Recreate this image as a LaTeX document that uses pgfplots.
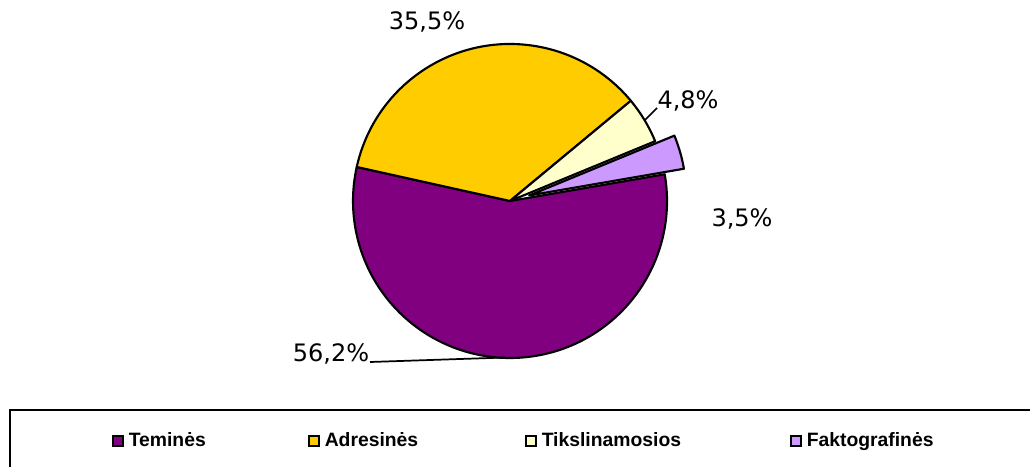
\documentclass[border=0pt]{standalone}
\usepackage{fontspec}
\setmainfont{Liberation Sans}
\newfontfamily\labfont{DejaVu Sans}
\usepackage{pgfplots}
\pgfplotsset{compat=1.18}
\usetikzlibrary{calc}
\definecolor{cA}{HTML}{800080}
\definecolor{cB}{HTML}{FFCC00}
\definecolor{cC}{HTML}{FFFFCC}
\definecolor{cD}{HTML}{CC99FF}
\newcommand\legitem[3]{%
  \draw[line width=1.5pt,fill=#2] (axis cs:#1+0.8,435.8) rectangle (axis cs:#1+11.2,446.2);
  \node[anchor=base west,inner sep=0pt,font=\bfseries\fontsize{14.5}{16}\selectfont] at (axis cs:#1+16.5,446.5) {#3};}
\begin{document}
\begin{tikzpicture}
% data (percent)
\def\vA{56.2}\def\vB{35.5}\def\vC{4.8}\def\vD{3.5}
\pgfmathsetmacro{\aS}{9.8}
\pgfmathsetmacro{\aA}{\aS-3.6*\vA}
\pgfmathsetmacro{\aB}{\aA-3.6*\vB}
\pgfmathsetmacro{\aC}{\aB-3.6*\vC}
\pgfmathsetmacro{\aD}{\aC-3.6*\vD}
\pgfmathsetmacro{\mD}{(\aC+\aD)/2}
\def\R{117.75pt}
\begin{axis}[width=773.25pt,height=349.5pt,scale only axis,
  xmin=0,xmax=1031,ymin=0,ymax=466,y dir=reverse,hide axis,clip=false]
\addplot[draw=none] coordinates {(0,0) (1031,466)};
\draw[line width=1.6pt,fill=cA,line join=round] (axis cs:510,201) -- ++(\aS:\R) arc[start angle=\aS,end angle=\aA,radius=\R] -- cycle;
\draw[line width=1.6pt,fill=cB,line join=round] (axis cs:510,201) -- ++(\aA:\R) arc[start angle=\aA,end angle=\aB,radius=\R] -- cycle;
\draw[line width=1.6pt,fill=cC,line join=round] (axis cs:510,201) -- ++(\aB:\R) arc[start angle=\aB,end angle=\aC,radius=\R] -- cycle;
\draw[line width=1.6pt,fill=cD,line join=round] ($(axis cs:510,201)+(\mD:15pt)$) -- ++(\aC:\R) arc[start angle=\aC,end angle=\aD,radius=\R] -- cycle;
% labels
\node[font=\labfont\fontsize{18}{20}\selectfont] at (axis cs:427,22) {35,5\%};
\node[font=\labfont\fontsize{18}{20}\selectfont] at (axis cs:688,101) {4,8\%};
\node[font=\labfont\fontsize{18}{20}\selectfont] at (axis cs:742,219) {3,5\%};
\node[font=\labfont\fontsize{18}{20}\selectfont] at (axis cs:331,354) {56,2\%};
\draw[line width=1.3pt] (axis cs:370,362) -- (axis cs:505,357.5);
\draw[line width=1.3pt] (axis cs:657,108) -- (axis cs:645,120);
% legend frame
\draw[line width=1.1pt] (axis cs:10,467) -- (axis cs:10,410) -- (axis cs:1030,410);
% legend entries
\legitem{112}{cA}{Teminės}
\legitem{308}{cB}{Adresinės}
\legitem{525}{cC}{Tikslinamosios}
\legitem{790}{cD}{Faktografinės}
\end{axis}
\end{tikzpicture}
\end{document}
